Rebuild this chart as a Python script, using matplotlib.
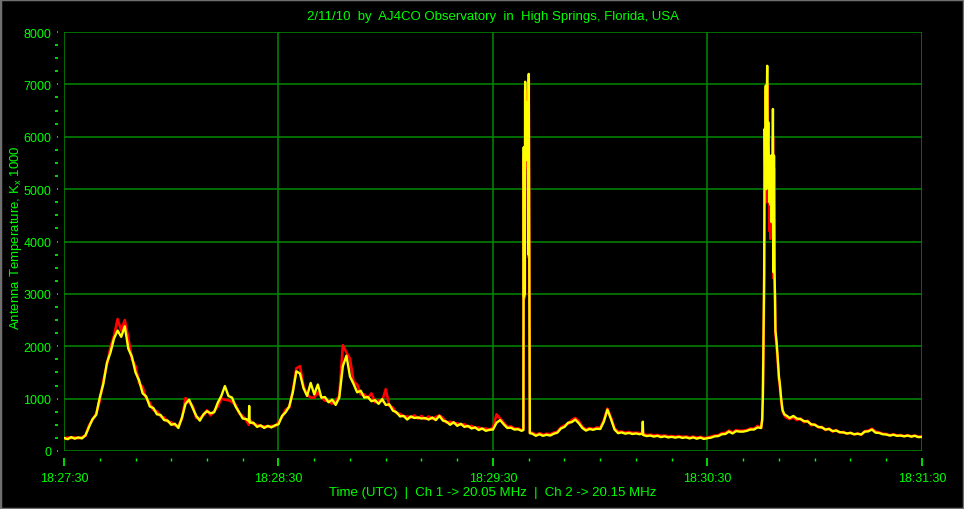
import matplotlib
matplotlib.use('Agg')
import matplotlib.pyplot as plt
from matplotlib.patches import Rectangle
from matplotlib.ticker import MultipleLocator
import numpy as np

plt.rcParams['font.family'] = ['Liberation Sans', 'DejaVu Sans']

title = '2/11/10  by  AJ4CO Observatory  in  High Springs, Florida, USA'
xlabel = 'Time (UTC)  |  Ch 1 -> 20.05 MHz  |  Ch 2 -> 20.15 MHz'
ylabel = 'Antenna Temperature, K$_\\mathregular{x}$ 1000'
time_labels = ['18:27:30', '18:28:30', '18:29:30', '18:30:30', '18:31:30']

# seconds after 18:27:30, one sample per second
ch2_yellow = [
    250, 225, 265, 235, 260, 240, 300, 460, 610, 690,
    1020, 1280, 1680, 1880, 2150, 2300, 2180, 2380, 1950, 1800,
    1500, 1350, 1100, 1040, 850, 820, 700, 690, 590, 580,
    500, 520, 440, 640, 900, 980, 820, 670, 580, 700,
    760, 720, 740, 920, 1050, 1240, 1050, 1020, 850, 740,
    620, 610, 540, 540, 460, 490, 440, 480, 450, 490,
    510, 670, 740, 850, 1120, 1520, 1480, 1200, 1050, 1300,
    1080, 1270, 1020, 1030, 930, 980, 880, 1020, 1620, 1820,
    1420, 1280, 1120, 1150, 1020, 1030, 950, 970, 900, 990,
    880, 890, 770, 740, 660, 670, 600, 660, 630, 640,
    620, 630, 600, 640, 590, 670, 580, 560, 500, 550,
    480, 520, 460, 480, 430, 450, 400, 430, 385, 405,
    410, 540, 590, 510, 440, 445, 410, 415, 385, 7050,
    7200, 330, 290, 320, 290, 310, 295, 330, 350, 430,
    460, 540, 550, 600, 530, 440, 390, 420, 405, 425,
    420, 560, 790, 610, 410, 340, 355, 330, 345, 325,
    335, 320, 305, 285, 295, 275, 290, 265, 280, 260,
    270, 255, 270, 250, 262, 240, 260, 235, 255, 230,
    245, 255, 280, 285, 320, 325, 370, 335, 380, 370,
    370, 385, 410, 410, 450, 440, 6150, 6275, 5640, 2300,
    1400, 780, 680, 630, 670, 620, 610, 570, 565, 510,
    500, 460, 450, 410, 420, 380, 390, 360, 355, 335,
    345, 320, 330, 315, 370, 375, 410, 350, 345, 320,
    315, 295, 310, 290, 295, 280, 295, 275, 290, 265, 270,
]
ch1_red = [
    240, 260, 245, 265, 240, 265, 290, 490, 600, 710,
    960, 1340, 1650, 1980, 2200, 2520, 2300, 2500, 2150, 1750,
    1620, 1300, 1220, 1000, 920, 780, 760, 660, 640, 560,
    550, 490, 480, 620, 1010, 930, 860, 630, 630, 680,
    780, 680, 760, 850, 1000, 980, 970, 940, 880, 720,
    670, 580, 590, 510, 500, 470, 470, 460, 480, 470,
    550, 650, 790, 830, 1150, 1580, 1620, 1230, 1080, 1020,
    1020, 1120, 1030, 960, 960, 900, 960, 1050, 2020, 1880,
    1760, 1320, 1270, 1080, 1080, 1010, 1100, 930, 970, 950,
    1180, 860, 830, 720, 710, 660, 660, 640, 680, 620,
    670, 610, 660, 610, 650, 680, 630, 540, 560, 530,
    530, 500, 510, 460, 480, 440, 450, 420, 430, 400,
    450, 700, 620, 540, 460, 470, 430, 430, 400, 6900,
    7100, 350, 310, 340, 310, 330, 320, 350, 370, 450,
    490, 520, 590, 630, 570, 460, 410, 440, 420, 450,
    440, 590, 810, 640, 430, 370, 370, 350, 365, 345,
    350, 345, 320, 305, 310, 300, 305, 290, 295, 280,
    285, 275, 285, 270, 278, 260, 275, 255, 270, 250,
    260, 275, 295, 300, 340, 345, 390, 355, 400, 385,
    390, 400, 430, 425, 480, 440, 6000, 5200, 5400, 2250,
    1350, 760, 640, 610, 640, 590, 620, 550, 580, 490,
    510, 450, 460, 400, 430, 370, 400, 350, 365, 330,
    350, 315, 335, 310, 380, 390, 425, 370, 355, 330,
    325, 300, 320, 295, 305, 285, 300, 280, 295, 270, 280,
]

# extra samples inside the short bursts
burst_t = [51.7, 51.8, 51.9,
           128.5, 128.6, 128.7, 128.8, 128.9, 129.1, 129.2, 129.3, 129.45, 129.6, 129.75, 129.9, 130.15, 130.3,
           161.8, 161.9,
           195.3, 195.5, 195.7, 195.85, 196.15, 196.3, 196.45, 196.6, 196.7, 196.85,
           197.15, 197.3, 197.45, 197.6, 197.75, 197.9, 198.15, 198.3, 198.45, 198.6, 198.75, 198.9,
           199.3, 199.6, 199.9, 200.2, 200.6, 201.5]
burst_yellow = [570, 860, 560,
                400, 5800, 2950, 5700, 3000, 5550, 6300, 5800, 6650, 6600, 6650, 3750, 3760, 340,
                330, 560,
                600, 1050, 2500, 3400, 5260, 6975, 5000, 6800, 7355, 5770,
                5640, 4750, 5640, 4700, 5500, 4370, 4400, 6530, 3415, 5640, 3400, 2905,
                2100, 1820, 1500, 1310, 1000, 700]
burst_red = [500, 600, 540,
             410, 5600, 2900, 5500, 2950, 5400, 6100, 5600, 6500, 6400, 6500, 3700, 3700, 350,
             340, 400,
             600, 1300, 2300, 3000, 4800, 6900, 4750, 6500, 7000, 6800,
             5400, 4200, 5300, 4050, 5000, 4300, 4300, 6000, 3300, 5400, 3300, 2700,
             2000, 1750, 1450, 1250, 950, 680]

t = np.concatenate([np.arange(len(ch2_yellow)), burst_t])
order = np.argsort(t, kind='stable')
t = t[order]
yellow = np.concatenate([ch2_yellow, burst_yellow])[order]
red = np.concatenate([ch1_red, burst_red])[order]

bright = '#00ff00'
dark = '#008000'

fig = plt.figure(figsize=(9.64, 5.10), dpi=100, facecolor='black')
ax = fig.add_axes([64 / 964, 58 / 510, 858 / 964, 419 / 510])
ax.set_facecolor('black')

ax.plot(t, red, color='#ff0000', lw=1.9, zorder=3)
ax.plot(t, yellow, color='#ffff00', lw=1.7, zorder=4)

ax.set_xlim(0, 240)
ax.set_ylim(0, 8000)
ax.set_xticks([0, 60, 120, 180, 240])
ax.set_xticklabels(time_labels)
ax.xaxis.set_minor_locator(MultipleLocator(10))
ax.yaxis.set_major_locator(MultipleLocator(1000))
ax.yaxis.set_minor_locator(MultipleLocator(250))

# frame is made of the grid lines, ticks sit a little away from it
ax.grid(True, color=dark, lw=1.2, zorder=1)
for s in ax.spines.values():
    s.set_visible(False)
ax.spines['left'].set_position(('outward', 4))
ax.spines['bottom'].set_position(('outward', 5))
ax.tick_params(axis='x', which='major', length=6, width=1.2, color=bright,
               labelcolor=bright, labelsize=9, pad=4)
ax.tick_params(axis='x', which='minor', length=2.5, width=1, color=bright)
ax.tick_params(axis='y', which='major', length=1, width=1.2, color=bright,
               labelcolor=bright, labelsize=9, pad=4)
ax.tick_params(axis='y', which='minor', length=2.5, width=1.2, color=bright)

fig.text(493 / 964, 1 - 17 / 510, title, color=bright, fontsize=9.5,
         ha='center', va='center')
fig.text(493 / 964, 1 - 493 / 510, xlabel, color=bright, fontsize=9.5,
         ha='center', va='center')
fig.text(16 / 964, 1 - 238 / 510, ylabel, color=bright, fontsize=9.5,
         ha='center', va='center', rotation=90)

fig.patches.append(Rectangle((0, 0), 1, 1, transform=fig.transFigure, fill=False,
                             edgecolor='#707070', lw=2.5))

fig.savefig('out.png', dpi=100, facecolor='black')
